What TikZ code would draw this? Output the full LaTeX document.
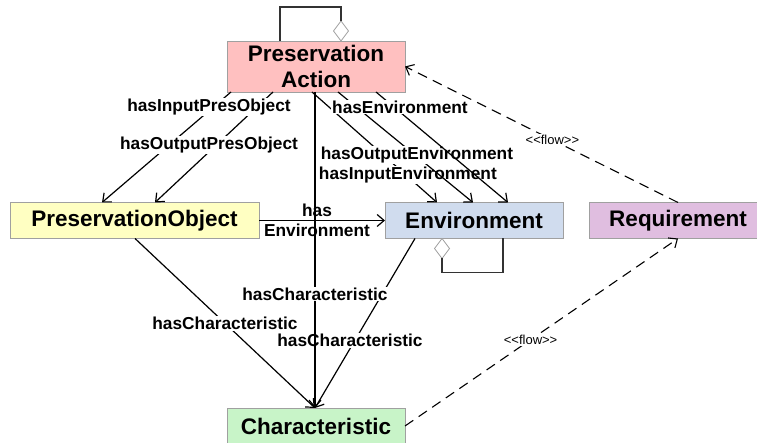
\documentclass[tikz,border=0pt]{standalone}
\usepackage{fontspec}
\setmainfont{Liberation Sans}
\usetikzlibrary{arrows.meta,shapes.geometric}

\definecolor{actionpink}{RGB}{255,192,192}
\definecolor{objectyellow}{RGB}{255,255,194}
\definecolor{envblue}{RGB}{208,220,238}
\definecolor{reqlilac}{RGB}{224,190,224}
\definecolor{chargreen}{RGB}{200,244,200}
\definecolor{boxgray}{RGB}{160,160,160}

\begin{document}
\begin{tikzpicture}[x=1pt,y=1pt,
  box/.style={draw=boxgray,line width=0.8pt,minimum height=36pt,inner sep=0pt,outer sep=0pt,
    align=center,font=\bfseries\fontsize{22.5}{26}\selectfont},
  rel/.style={line width=1.2pt,-{Straight Barb[length=7pt,width=12pt]}},
  flow/.style={line width=1.1pt,dash pattern=on 10pt off 6.5pt,-{Straight Barb[length=7pt,width=12pt]}},
  lbl/.style={fill=white,inner sep=1pt,align=center,font=\bfseries\fontsize{17.3}{20}\selectfont},
  flowlbl/.style={fill=white,inner sep=1pt,font=\fontsize{13}{14}\selectfont},
  agg/.style={diamond,draw=boxgray,fill=white,line width=0.8pt,minimum width=15pt,minimum height=20pt,
    inner sep=0pt,outer sep=0pt},
  selfloop/.style={line width=1.6pt,draw=black!80}
]
\useasboundingbox (0,0) rectangle (757,443);

%Classes
\node[box,fill=actionpink,minimum width=178pt,minimum height=51pt] (action) at (316,376.5) {Preservation\\Action};
\node[box,fill=objectyellow,minimum width=249pt] (object) at (134.5,222.5) {PreservationObject};
\node[box,fill=envblue,minimum width=178pt] (env) at (474,222.5) {Environment};
\node[box,fill=reqlilac,minimum width=178pt] (req) at (678,222.5) {Requirement};
\node[box,fill=chargreen,minimum width=178pt] (char) at (316,17) {Characteristic};

%Aggregation loops
\node[agg,anchor=south] (actionAgg) at ([xshift=25pt]action.north) {};
\draw[selfloop] ([xshift=-36pt]action.north) -- ++(0,34) -| (actionAgg.north);

\node[agg,anchor=north] (envAgg) at ([xshift=-32pt]env.south) {};
\draw[selfloop] (envAgg.south) -- ++(0,-14) -| ([xshift=29pt]env.south);

%Action -> Object
\draw[rel] ([xshift=4pt]action.south west) -- ([xshift=-32.5pt]object.north);
\draw[rel] ([xshift=46pt]action.south west) -- ([xshift=20.5pt]object.north);
\node[lbl] (inObjLbl) at (209,336) {hasInputPresObject};
\node[lbl] (outObjLbl) at (209,298) {hasOutputPresObject};

%Action -> Environment
\draw[rel] ([xshift=-4pt]action.south) -- ([xshift=-37pt]env.north)
  node[lbl,pos=0.751,xshift=2pt] (inEnvLbl) {hasInputEnvironment};
\draw[rel] ([xshift=22pt]action.south) -- ([xshift=-1pt]env.north)
  node[lbl,pos=0.57,xshift=2pt] (outEnvLbl) {hasOutputEnvironment};
\draw[rel] ([xshift=60pt]action.south) -- ([xshift=34pt]env.north)
  node[lbl,pos=0.136,xshift=6pt] (envLbl) {hasEnvironment};

%Object -> Environment
\draw[rel] (object.east) -- (env.west)
  node[lbl,fill=none,midway,xshift=-5pt] (objEnvLbl) {has\\Environment};

%Characteristics
\draw[rel] ([xshift=0.5pt]object.south) -- ([xshift=-1pt]char.north)
  node[lbl,midway] (objCharLbl) {hasCharacteristic};
\draw[rel] ([xshift=-59pt]env.south) -- ([xshift=-1pt]char.north)
  node[lbl,pos=0.6,xshift=-5pt] (envCharLbl) {hasCharacteristic};
\draw[rel] ([xshift=-1pt]action.south) -- ([xshift=-1pt]char.north)
  node[lbl,pos=0.639] (actCharLbl) {hasCharacteristic};

%Flows
\draw[flow] (req.north) -- (action.east)
  node[flowlbl,pos=0.46] (flowTop) {<\kern0pt<flow>\kern0pt>};
\draw[flow] (char.east) -- (req.south)
  node[flowlbl,pos=0.46] (flowBottom) {<\kern0pt<flow>\kern0pt>};

\end{tikzpicture}
\end{document}
